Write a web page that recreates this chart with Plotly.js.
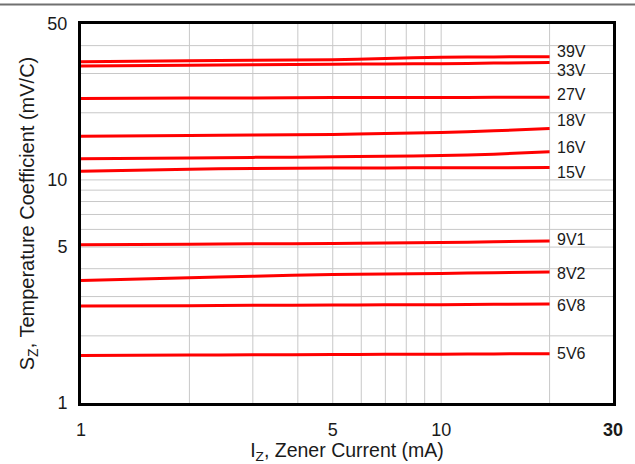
<!DOCTYPE html>
<html>
<head>
<meta charset="utf-8">
<script src="https://cdn.plot.ly/plotly-3.0.1.min.js"></script>
<style>html,body{margin:0;padding:0;background:#fff;}#chart{width:635px;height:464px;}</style>
</head>
<body>
<div id="chart"></div>
<script>
// Zener current (mA)
const currents = [1, 2, 3, 5, 7, 10, 14, 20];
// Temperature coefficient (mV/C) per zener voltage
const seriesNames = ['39V', '33V', '27V', '18V', '16V', '15V', '9V1', '8V2', '6V8', '5V6'];
const v39 = [33.9, 34.2, 34.4, 34.6, 35.0, 35.5, 35.6, 35.7];
const v33 = [32.4, 32.7, 32.85, 33.0, 33.1, 33.2, 33.4, 33.6];
const v27 = [23.2, 23.3, 23.3, 23.4, 23.4, 23.4, 23.45, 23.5];
const v18 = [15.7, 15.8, 15.9, 16.0, 16.15, 16.3, 16.6, 17.0];
const v16 = [12.43, 12.55, 12.62, 12.69, 12.77, 12.86, 13.05, 13.36];
const v15 = [10.95, 11.17, 11.25, 11.3, 11.32, 11.33, 11.35, 11.36];
const v9v1 = [5.12, 5.15, 5.17, 5.19, 5.21, 5.24, 5.28, 5.33];
const v8v2 = [3.54, 3.64, 3.7, 3.77, 3.79, 3.81, 3.84, 3.87];
const v6v8 = [2.72, 2.73, 2.74, 2.75, 2.755, 2.76, 2.77, 2.78];
const v5v6 = [1.634, 1.64, 1.645, 1.65, 1.652, 1.655, 1.66, 1.664];
const seriesValues = [v39, v33, v27, v18, v16, v15, v9v1, v8v2, v6v8, v5v6];
// label vertical positions (mV/C) next to line ends
const labelValues = [37.6, 31.1, 24.1, 18.4, 14.0, 10.85, 5.39, 3.82, 2.74, 1.675];
// axis ticks
const xTickVals = [1, 5, 10, 30];
const xTickText = ['1', '5', '10', '<b>30</b>'];
const yTickVals = [1, 5, 10, 50];
const yTickText = ['1', '5', '10', '50'];
const xGrid = [2, 3, 4, 5, 6, 7, 8, 9, 10, 20];
const yGrid = [2, 3, 4, 5, 6, 7, 8, 9, 10, 20, 30, 40];

const FONT = 'Liberation Sans, Arial, sans-serif';
const TXT = '#1a1a1a';

const traces = seriesValues.map((vals, i) => ({
  x: currents,
  y: vals,
  type: 'scatter',
  mode: 'lines',
  name: seriesNames[i],
  line: {color: '#ff0000', width: 3, shape: 'spline', smoothing: 0.8},
  showlegend: false,
  hoverinfo: 'skip'
}));

const shapes = [];
xGrid.forEach(v => shapes.push({type: 'line', xref: 'x', yref: 'paper', x0: v, x1: v, y0: 0, y1: 1,
  line: {color: '#c8c8c8', width: 1}, layer: 'below'}));
yGrid.forEach(v => shapes.push({type: 'line', xref: 'paper', yref: 'y', x0: 0, x1: 1, y0: v, y1: v,
  line: {color: '#c8c8c8', width: 1}, layer: 'below'}));
// thin gray rule across the top of the image
shapes.push({type: 'line', xref: 'paper', yref: 'paper', x0: -81/532, x1: 554/532, y0: 1 + 19.5/379, y1: 1 + 19.5/379,
  line: {color: '#707070', width: 2}});

const annotations = seriesNames.map((n, i) => ({
  x: Math.log10(currents[currents.length - 1]),
  y: Math.log10(labelValues[i]),
  xref: 'x', yref: 'y',
  text: n,
  showarrow: false,
  xanchor: 'left',
  yanchor: 'middle',
  xshift: 5,
  font: {family: FONT, size: 16, color: TXT}
}));

const layout = {
  width: 635, height: 464,
  margin: {l: 81, r: 22, t: 24, b: 61},
  paper_bgcolor: '#ffffff',
  plot_bgcolor: '#ffffff',
  font: {family: FONT, size: 18, color: TXT},
  xaxis: {
    type: 'log',
    range: [0, Math.log10(30)],
    tickvals: xTickVals, ticktext: xTickText,
    showgrid: false, zeroline: false,
    showline: true, mirror: true, linecolor: '#000', linewidth: 3,
    ticks: '', ticklabelstandoff: 8,
    tickfont: {family: FONT, size: 18, color: TXT},
    title: {text: 'I<sub>Z</sub>, Zener Current (mA)', font: {family: FONT, size: 19.5, color: TXT}, standoff: 2}
  },
  yaxis: {
    type: 'log',
    range: [0, Math.log10(50)],
    tickvals: yTickVals, ticktext: yTickText,
    showgrid: false, zeroline: false,
    showline: true, mirror: true, linecolor: '#000', linewidth: 3,
    ticks: '', ticklabelstandoff: 7,
    tickfont: {family: FONT, size: 18, color: TXT},
    title: {text: 'S<sub>Z</sub>, Temperature Coefficient (mV/C)', font: {family: FONT, size: 20, color: TXT}, standoff: 8}
  },
  shapes: shapes,
  annotations: annotations
};

Plotly.newPlot('chart', traces, layout, {staticPlot: true, displayModeBar: false});
</script>
</body>
</html>
